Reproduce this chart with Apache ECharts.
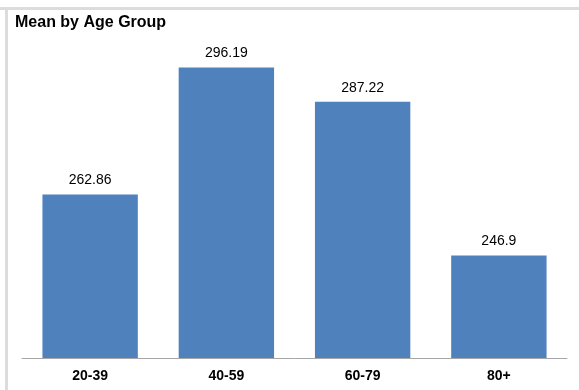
<!DOCTYPE html>
<html>
<head>
<meta charset="utf-8">
<script src="https://cdn.jsdelivr.net/npm/echarts@6/dist/echarts.min.js"></script>
<style>
  html, body { margin: 0; padding: 0; background: #fff; }
  #chart { width: 579px; height: 390px; }
</style>
</head>
<body>
<div id="chart"></div>
<script>
const categories = ['20-39', '40-59', '60-79', '80+'];
const means = [262.86, 296.19, 287.22, 246.9];
const yMin = 220;
const yMax = 300;

const chart = echarts.init(document.getElementById('chart'));
chart.setOption({
  animation: false,
  backgroundColor: '#ffffff',
  graphic: [
    // light frame along the top and left edges
    { type: 'rect', shape: { x: 0, y: 7, width: 579, height: 3 }, style: { fill: '#dcdcdc' } },
    { type: 'rect', shape: { x: 5, y: 7, width: 3, height: 383 }, style: { fill: '#dcdcdc' } }
  ],
  title: {
    text: 'Mean by Age Group',
    left: 10,
    top: 10,
    textStyle: { fontFamily: 'Liberation Sans', fontSize: 16, fontWeight: 'bold', color: '#000' }
  },
  grid: { left: 22, right: 12, top: 53, bottom: 32, containLabel: false },
  xAxis: {
    type: 'category',
    data: categories,
    axisLine: { lineStyle: { color: '#a6a6a6', width: 1 } },
    axisTick: { show: false },
    axisLabel: { fontFamily: 'Liberation Sans', fontSize: 14, fontWeight: 'bold', color: '#000', margin: 11 }
  },
  yAxis: {
    type: 'value',
    min: yMin,
    max: yMax,
    show: false,
    splitLine: { show: false }
  },
  series: [{
    type: 'bar',
    data: means,
    barWidth: '70%',
    itemStyle: { color: '#4f81bd' },
    label: {
      show: true,
      position: 'top',
      distance: 7,
      fontFamily: 'Liberation Sans',
      fontSize: 14,
      color: '#000'
    }
  }]
});
</script>
</body>
</html>
